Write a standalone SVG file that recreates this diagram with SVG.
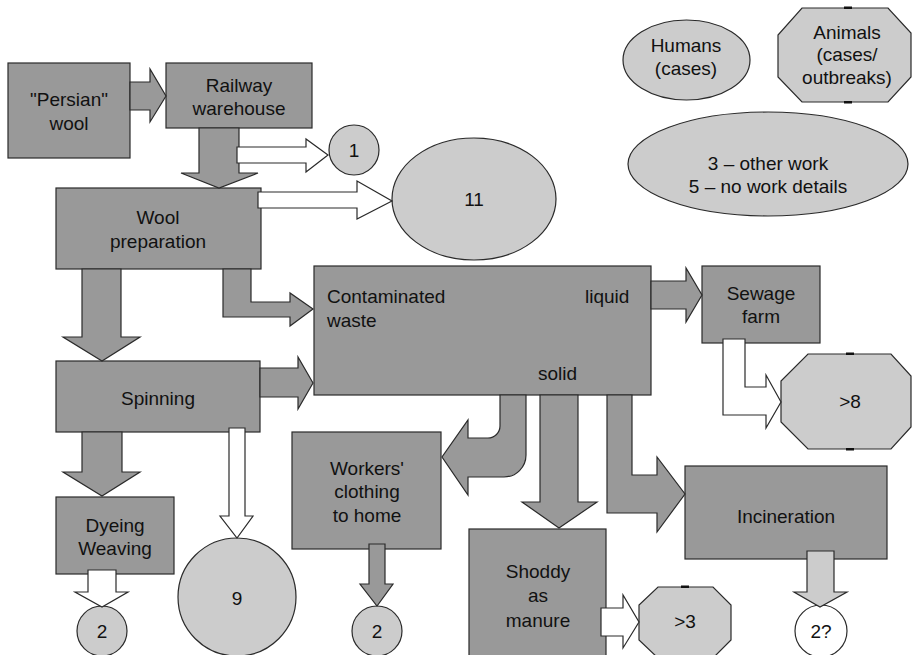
<svg xmlns="http://www.w3.org/2000/svg" width="912" height="655" viewBox="0 0 912 655">
<style>
.box{fill:#999999;stroke:#2a2a2a;stroke-width:1.2}
.lt{fill:#cccccc;stroke:#2a2a2a;stroke-width:1.2}
.wh{fill:#ffffff;stroke:#2a2a2a;stroke-width:1.2}
.ga{fill:#999999;stroke:#2a2a2a;stroke-width:1.2}
.la{fill:#cccccc;stroke:#2a2a2a;stroke-width:1.2}
.wa{fill:#ffffff;stroke:#2a2a2a;stroke-width:1.2}
.mk{fill:#111111}
text{font-family:"Liberation Sans",Arial,sans-serif;font-size:19px;fill:#111111;text-anchor:middle}
.l{text-anchor:start}
</style>
<rect width="912" height="655" fill="#ffffff"/>
<g id="persian"><rect class="box" x="8" y="63" width="122" height="95"/><text x="69" y="106">"Persian"</text><text x="69" y="130">wool</text></g>
<g id="railway"><rect class="box" x="166" y="63" width="146" height="65"/><text x="239" y="92">Railway</text><text x="239" y="115">warehouse</text></g>
<g id="woolprep"><rect class="box" x="56" y="188" width="205" height="81"/><text x="158" y="224">Wool</text><text x="158" y="248">preparation</text></g>
<g id="contaminated"><rect class="box" x="314" y="266" width="337" height="129"/><text class="l" x="327" y="303">Contaminated</text><text class="l" x="327" y="327">waste</text><text class="l" x="585" y="303">liquid</text><text class="l" x="538" y="380">solid</text></g>
<g id="spinning"><rect class="box" x="56" y="361" width="204" height="71"/><text x="158" y="405">Spinning</text></g>
<g id="dyeing"><rect class="box" x="56" y="497" width="118" height="77"/><text x="115" y="532">Dyeing</text><text x="115" y="555">Weaving</text></g>
<g id="workers"><rect class="box" x="292" y="432" width="149" height="117"/><text x="367" y="475">Workers'</text><text x="367" y="498">clothing</text><text x="367" y="522">to home</text></g>
<g id="shoddy"><rect class="box" x="469" y="529" width="137" height="140"/><text x="538" y="578">Shoddy</text><text x="538" y="602">as</text><text x="538" y="627">manure</text></g>
<g id="incineration"><rect class="box" x="685" y="466" width="202" height="93"/><text x="786" y="523">Incineration</text></g>
<g id="sewage"><rect class="box" x="702" y="266" width="118" height="77"/><text x="761" y="300">Sewage</text><text x="761" y="323">farm</text></g>
<g id="c1"><circle class="lt" cx="354" cy="150" r="25"/><text x="354" y="157">1</text></g>
<g id="c11"><ellipse class="lt" cx="474" cy="199" rx="82" ry="61"/><text x="474" y="206">11</text></g>
<g id="c2a"><circle class="lt" cx="102" cy="631" r="25"/><text x="102" y="638">2</text></g>
<g id="c9"><circle class="lt" cx="237" cy="597" r="59"/><text x="237" y="605">9</text></g>
<g id="c2b"><circle class="lt" cx="377" cy="631" r="25"/><text x="377" y="638">2</text></g>
<g id="c2q"><circle class="wh" cx="821" cy="631" r="26"/><text x="821" y="638">2?</text></g>
<g id="o8"><polygon class="lt" points="808,354 891,354 911,376 911,427 891,449 808,449 781,422 781,381"/><rect class="mk" x="846" y="352.5" width="8" height="2.5"/><rect class="mk" x="846" y="448" width="8" height="2.5"/><text x="850" y="408">&gt;8</text></g>
<g id="o3"><polygon class="lt" points="658,587 713,587 731,605 731,640 713,658 658,658 639,640 639,605"/><rect class="mk" x="681" y="585.5" width="8" height="2.5"/><text x="685" y="628">&gt;3</text></g>
<g id="humans"><ellipse class="lt" cx="686.5" cy="60" rx="63.5" ry="40"/><text x="686" y="52">Humans</text><text x="686" y="75">(cases)</text></g>
<g id="animals"><polygon class="lt" points="802,8 888,8 911,33 911,77 888,102 802,102 778,77 778,35"/><rect class="mk" x="844" y="6.5" width="8" height="2.5"/><rect class="mk" x="844" y="101" width="8" height="2.5"/><text x="847" y="39">Animals</text><text x="847" y="61">(cases/</text><text x="847" y="84">outbreaks)</text></g>
<g id="legend"><ellipse class="lt" cx="768" cy="164" rx="140" ry="52"/><text x="768" y="170">3 – other work</text><text x="768" y="193">5 – no work details</text></g>
<g id="connectors">
<polygon class="ga" points="130,82 150,82 150,69 166,96 150,122 150,110 130,110"/>
<polygon class="ga" points="199,128 239,128 239,173 258,173 219,188 181,173 199,173"/>
<polygon class="wa" points="237,147 306,147 306,139 328,155 306,172 306,163 237,163"/>
<polygon class="wa" points="258,192 357,192 357,181 392,201 357,219 357,208 258,208"/>
<polygon class="ga" points="223,269 251,269 251,302 290,302 290,293 313,309 290,326 290,317 223,317"/>
<polygon class="ga" points="82,269 121,269 121,337 140,337 102,361 63,337 82,337"/>
<polygon class="ga" points="260,368 298,368 298,357 313,383 298,409 298,397 260,397"/>
<polygon class="ga" points="651,281 686,281 686,268 702,295 686,322 686,309 651,309"/>
<polygon class="wa" points="723,339 745,339 745,387 766,387 766,375 781,402 766,428 766,415 723,415"/>
<path class="ga" d="M500,395 L500,426 A12,12 0 0 1 488,438 L468,438 L468,420 L442,457 L468,495 L468,477 L504,477 A22,22 0 0 0 526,455 L526,395 Z"/>
<polygon class="ga" points="540,395 578,395 578,502 597,502 559,528 522,502 540,502"/>
<polygon class="ga" points="607,395 632,395 632,475 657,475 657,457 685,494 657,532 657,513 607,513"/>
<polygon class="ga" points="82,432 122,432 122,472 140,472 102,496 63,472 82,472"/>
<polygon class="wa" points="88,570 116,570 116,592 128,592 102,607 75,592 88,592"/>
<polygon class="wa" points="229,428 245,428 245,516 253,516 237,538 220,516 229,516"/>
<polygon class="ga" points="369,544 385,544 385,584 393,584 377,606 360,584 369,584"/>
<polygon class="la" points="807,551 834,551 834,592 847,592 820,607 794,592 807,592"/>
<polygon class="wa" points="601,608 623,608 623,595 639,622 623,648 623,636 601,636"/>
</g>
</svg>
